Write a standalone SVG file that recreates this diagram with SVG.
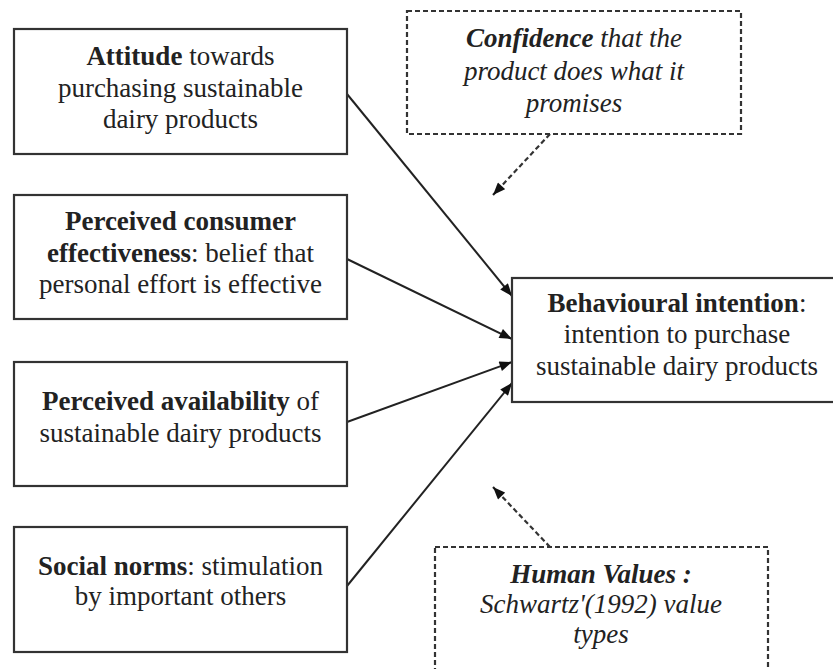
<svg xmlns="http://www.w3.org/2000/svg" width="833" height="669" viewBox="0 0 833 669">
<style>
.box{fill:#fff;stroke:#333;stroke-width:2.2}
.dbox{fill:#fff;stroke:#333;stroke-width:2.2;stroke-dasharray:5 3}
text{font-family:"Liberation Serif","Times New Roman",serif;font-size:27px;fill:#222;text-anchor:middle}
.b{font-weight:bold}
.i{font-style:italic}
.conn{stroke:#222;stroke-width:2;fill:none}
.dconn{stroke:#333;stroke-width:2.2;fill:none;stroke-dasharray:5 3}
</style>
<defs>
<marker id="ah" viewBox="0 0 10 8" refX="10" refY="4" markerWidth="14" markerHeight="10" markerUnits="userSpaceOnUse" orient="auto">
<path d="M0,0 L10,4 L0,8 z" fill="#111"/>
</marker>
</defs>
<rect width="833" height="669" fill="#fff"/>
<g id="connectors">
<line class="conn" x1="347" y1="94" x2="512" y2="296" marker-end="url(#ah)"/>
<line class="conn" x1="347" y1="259" x2="512" y2="339" marker-end="url(#ah)"/>
<line class="conn" x1="347" y1="422" x2="512" y2="362" marker-end="url(#ah)"/>
<line class="conn" x1="347" y1="586" x2="512" y2="383" marker-end="url(#ah)"/>
<line class="dconn" x1="550" y1="134" x2="493" y2="195" marker-end="url(#ah)"/>
<line class="dconn" x1="550" y1="547" x2="493" y2="487" marker-end="url(#ah)"/>
</g>
<g id="attitude">
<rect class="box" x="14" y="29" width="333" height="125"/>
<text x="180.5" y="65"><tspan class="b">Attitude</tspan> towards</text>
<text x="180.5" y="97">purchasing sustainable</text>
<text x="180.5" y="128">dairy products</text>
</g>
<g id="effectiveness">
<rect class="box" x="14" y="195" width="333" height="124"/>
<text x="180.5" y="230" class="b">Perceived consumer</text>
<text x="180.5" y="262"><tspan class="b">effectiveness</tspan>: belief that</text>
<text x="180.5" y="293">personal effort is effective</text>
</g>
<g id="availability">
<rect class="box" x="14" y="362" width="333" height="124"/>
<text x="180.5" y="410"><tspan class="b">Perceived availability</tspan> of</text>
<text x="180.5" y="442">sustainable dairy products</text>
</g>
<g id="norms">
<rect class="box" x="14" y="527" width="333" height="125"/>
<text x="180.5" y="575"><tspan class="b">Social norms</tspan>: stimulation</text>
<text x="180.5" y="605">by important others</text>
</g>
<g id="intention">
<rect class="box" x="512" y="278" width="330" height="124"/>
<text x="677" y="312"><tspan class="b">Behavioural intention</tspan>:</text>
<text x="677" y="343">intention to purchase</text>
<text x="677" y="375">sustainable dairy products</text>
</g>
<g id="confidence">
<rect class="dbox" x="407" y="11" width="334" height="123"/>
<text x="574" y="47" class="i"><tspan class="b">Confidence</tspan> that the</text>
<text x="574" y="80" class="i">product does what it</text>
<text x="574" y="112" class="i">promises</text>
</g>
<g id="values">
<rect class="dbox" x="435" y="547" width="333" height="130"/>
<text x="601" y="583" class="i b">Human Values :</text>
<text x="601" y="613" class="i">Schwartz'(1992) value</text>
<text x="601" y="643" class="i">types</text>
</g>
</svg>
